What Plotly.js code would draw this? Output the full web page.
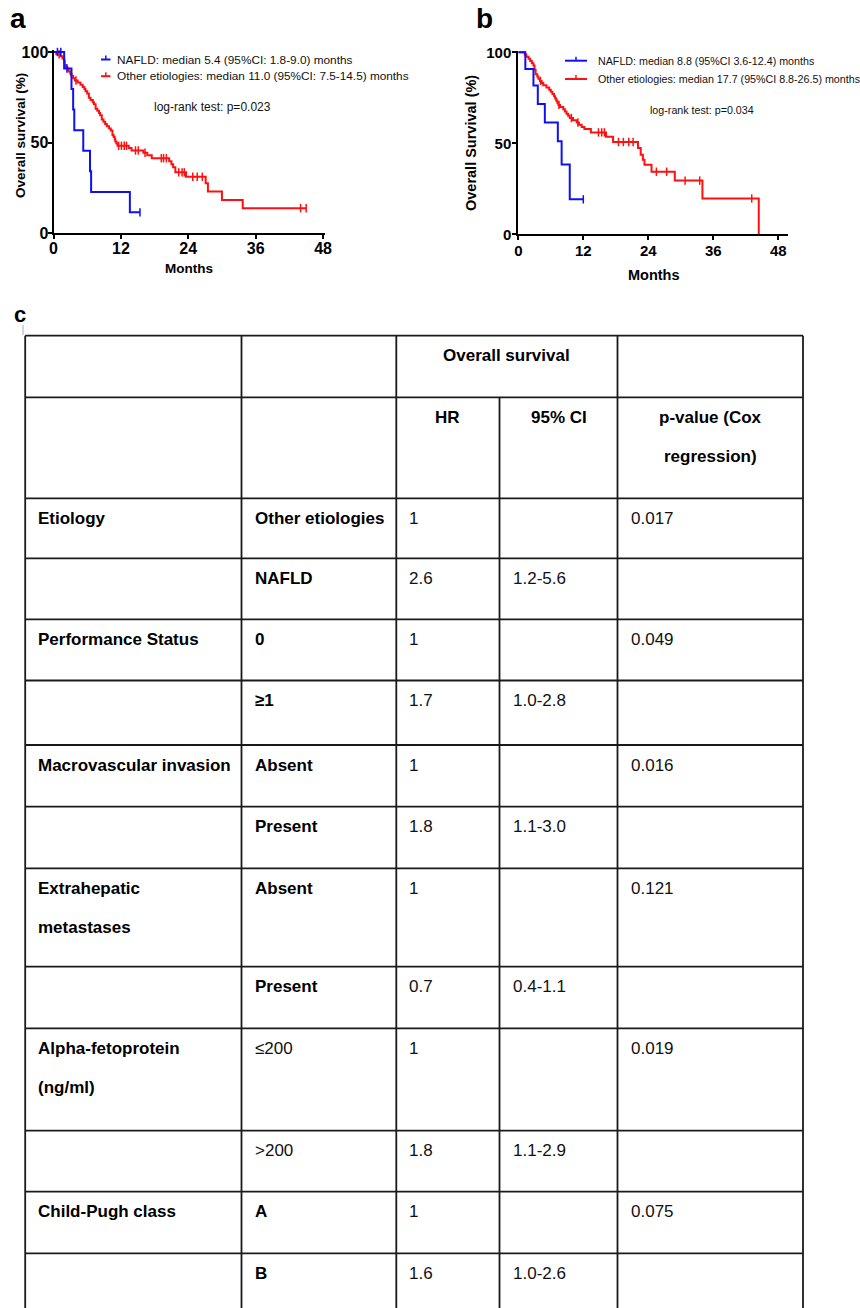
<!DOCTYPE html>
<html>
<head>
<meta charset="utf-8">
<script src="https://cdn.plot.ly/plotly-3.0.1.min.js"></script>
<style>
  html, body { margin: 0; padding: 0; background: #fff; }
  #chart { width: 860px; height: 1308px; }
</style>
</head>
<body>
<div id="chart"></div>
<script>
const FONT = 'Liberation Sans, Arial, Helvetica, sans-serif';
const BLUE = '#1010f0';
const RED = '#ff1010';

// ---- Panel a: Kaplan-Meier steps (months, % alive) ----
const aNafldTime = [0, 1.9, 3.2, 3.5, 3.7, 5.3, 6.5, 6.7, 13.6, 15.4];
const aNafldSurv = [100, 90.9, 79.5, 68.2, 56.8, 45.5, 34.1, 22.7, 11.4, 11.4];
const aNafldCensor = [0.7, 1.3, 2.4, 15.4];

const aOtherTime = [0, 0.5, 1.2, 1.6, 1.9, 2.0, 2.2, 2.5, 2.7, 3.0, 3.2, 3.5, 3.8, 4.3, 4.8, 5.2, 5.5, 5.7, 6.0, 6.3,
  6.6, 7.0, 7.2, 7.5, 7.8, 8.1, 8.3, 8.6, 8.9, 9.2, 9.5, 9.9, 10.2, 10.5, 10.7, 10.9, 11.0, 11.2, 11.4, 13.4,
  13.9, 16.0, 16.7, 17.5, 20.6, 21.0, 21.3, 21.7, 23.6, 27.1, 27.5, 30.0, 33.7, 45.0];
const aOtherSurv = [100, 98.8, 97.6, 96.4, 95.2, 92.8, 91.6, 90.4, 89.2, 88.0, 86.7, 85.5, 84.3, 83.1, 81.9, 80.7, 79.5, 78.3, 77.1, 74.7,
  73.5, 72.3, 71.1, 68.7, 67.5, 66.3, 65.1, 62.7, 61.5, 60.2, 59.0, 57.8, 56.6, 54.2, 53.0, 51.8, 50.6, 49.4, 48.2, 46.9,
  45.6, 44.3, 42.9, 41.3, 39.7, 38.0, 36.3, 33.5, 31.1, 27.5, 22.9, 18.3, 13.7, 13.7];
const aOtherCensor = [1.0, 4.0, 11.6, 12.1, 12.6, 13.0, 14.6, 15.1, 16.3, 19.2, 19.6, 20.1, 22.3, 22.9, 23.3, 24.8, 25.6, 26.5, 44.0, 45.0];

const aLegend = ['NAFLD: median 5.4 (95%CI: 1.8-9.0) months', 'Other etiologies: median 11.0 (95%CI: 7.5-14.5) months'];
const aTest = 'log-rank test: p=0.023';

// ---- Panel b ----
const bNafldTime = [0, 1.3, 2.8, 3.6, 4.9, 7.3, 8.0, 9.5, 12.0];
const bNafldSurv = [100, 90.9, 81.8, 71.6, 61.4, 51.1, 38.4, 19.2, 19.2];
const bNafldCensor = [12.0];

const bOtherTime = [0, 1.2, 1.5, 1.9, 2.2, 2.5, 2.8, 3.0, 3.2, 3.5, 3.7, 4.0, 4.3, 4.6, 5.2, 5.7, 6.0, 6.3, 6.6, 6.8,
  7.0, 7.2, 7.4, 7.7, 8.3, 8.6, 8.9, 9.2, 9.5, 10.1, 10.8, 11.2, 11.7, 12.2, 13.4, 16.2, 17.5, 22.1, 22.6, 23.0,
  23.3, 24.6, 28.9, 34.0, 44.4];
const bOtherSurv = [100, 98.8, 97.6, 96.4, 95.2, 94.0, 92.8, 90.4, 88.0, 86.7, 85.5, 84.3, 83.1, 81.9, 80.7, 79.5, 78.3, 77.1, 75.9, 74.7,
  73.5, 72.3, 71.1, 69.9, 68.7, 67.5, 66.3, 65.1, 63.9, 62.7, 61.4, 60.2, 59.0, 57.8, 56.0, 53.6, 50.7, 47.4, 43.7, 41.0,
  38.2, 34.4, 29.5, 19.7, 0];
const bOtherCensor = [4.1, 7.5, 9.8, 11.0, 14.8, 15.4, 15.9, 18.5, 19.4, 20.4, 21.2, 25.5, 27.4, 30.8, 33.5, 43.1];

const bLegend = ['NAFLD: median 8.8 (95%CI 3.6-12.4) months', 'Other etiologies: median 17.7 (95%CI 8.8-26.5) months'];
const bTest = 'log-rank test: p=0.034';

const monthTicks = [0, 12, 24, 36, 48];
const survTicks = [0, 50, 100];

// ---- Panel c: multivariable Cox table ----
const headGroup = 'Overall survival';
const headCols = ['HR', '95% CI', 'p-value (Cox<br>regression)'];
const factors = ['Etiology', '', 'Performance Status', '', 'Macrovascular invasion', '', 'Extrahepatic<br>metastases', '',
  'Alpha-fetoprotein<br>(ng/ml)', '', 'Child-Pugh class', ''];
const levels = ['Other etiologies', 'NAFLD', '0', '≥1', 'Absent', 'Present', 'Absent', 'Present', '≤200', '>200', 'A', 'B'];
const hrs = ['1', '2.6', '1', '1.7', '1', '1.8', '1', '0.7', '1', '1.8', '1', '1.6'];
const cis = ['', '1.2-5.6', '', '1.0-2.8', '', '1.1-3.0', '', '0.4-1.1', '', '1.1-2.9', '', '1.0-2.6'];
const pvals = ['0.017', '', '0.049', '', '0.016', '', '0.121', '', '0.019', '', '0.075', ''];

// ---- page geometry (canvas axis uses page pixels, y downward) ----
const W = 860, H = 1308;
const colX = [25.2, 241.5, 396.3, 499.5, 617.5, 803];
const rowY = [335.7, 397.3, 498.3, 558.3, 619.3, 680.5, 745.0, 806.7, 868.3, 966.7, 1028.3, 1130.7, 1191.7, 1253.3, 1320];
const PAD = 11, FIRST = 20, LINE = 39;
const levelPlain = ['≤200', '>200'];

function stepAt(times, surv, t) {
  let v = surv[0];
  for (let i = 0; i < times.length; i++) if (times[i] <= t) v = surv[i];
  return v;
}

function km(times, surv, color, xa, ya) {
  return { type: 'scatter', mode: 'lines', x: times, y: surv, xaxis: xa, yaxis: ya,
    line: { shape: 'hv', color: color, width: 2 }, hoverinfo: 'skip', showlegend: false };
}
function censor(times, surv, marks, color, xa, ya) {
  return { type: 'scatter', mode: 'markers', x: marks, y: marks.map(t => stepAt(times, surv, t)),
    xaxis: xa, yaxis: ya, cliponaxis: false,
    marker: { symbol: 'line-ns', size: 6, color: color, line: { color: color, width: 1.5 } },
    hoverinfo: 'skip', showlegend: false };
}

const traces = [
  km(aOtherTime, aOtherSurv, RED, 'x', 'y'),
  censor(aOtherTime, aOtherSurv, aOtherCensor, RED, 'x', 'y'),
  km(aNafldTime, aNafldSurv, BLUE, 'x', 'y'),
  censor(aNafldTime, aNafldSurv, aNafldCensor, BLUE, 'x', 'y'),
  km(bOtherTime, bOtherSurv, RED, 'x2', 'y2'),
  censor(bOtherTime, bOtherSurv, bOtherCensor, RED, 'x2', 'y2'),
  km(bNafldTime, bNafldSurv, BLUE, 'x2', 'y2'),
  censor(bNafldTime, bNafldSurv, bNafldCensor, BLUE, 'x2', 'y2')
];

function xAxis(domain, range, size, anchor, standoff) {
  return { domain: domain, range: range, anchor: anchor, tickvals: monthTicks, ticks: 'outside', ticklen: 4,
    tickwidth: 2, tickcolor: '#000', showline: true, linewidth: 2, linecolor: '#000', showgrid: false,
    zeroline: false, fixedrange: true, ticklabelstandoff: standoff,
    tickfont: { family: FONT, size: size, color: '#000', weight: 'bold' } };
}
function yAxis(domain, size, anchor, standoff) {
  return { domain: domain, range: [0, 101], anchor: anchor, tickvals: survTicks, ticks: 'outside', ticklen: 4,
    tickwidth: 2, tickcolor: '#000', showline: true, linewidth: 2, linecolor: '#000', showgrid: false,
    zeroline: false, fixedrange: true, ticklabelstandoff: standoff,
    tickfont: { family: FONT, size: size, color: '#000', weight: 'bold' } };
}

const annotations = [];
const shapes = [];
function txt(x, y, text, size, opts) {
  annotations.push(Object.assign({ xref: 'x3', yref: 'y3', x: x, y: y, text: text, showarrow: false,
    xanchor: 'left', yanchor: 'middle', font: { family: FONT, size: size, color: '#111' } }, opts || {}));
}
function seg(x0, y0, x1, y1, color, width) {
  shapes.push({ type: 'line', xref: 'x3', yref: 'y3', x0: x0, y0: y0, x1: x1, y1: y1,
    line: { color: color, width: width } });
}
const bold = (size) => ({ font: { family: FONT, size: size, color: '#000', weight: 'bold' } });

// panel letters
txt(17.5, 18.2, 'a', 28, Object.assign({ xanchor: 'center' }, bold(28)));
txt(484, 18.5, 'b', 28, Object.assign({ xanchor: 'center' }, bold(28)));
txt(20, 314, 'c', 22, Object.assign({ xanchor: 'center' }, bold(22)));
seg(23, 325, 23, 335, '#aaa', 1);

// axis titles
txt(20, 136, 'Overall survival (%)', 13.5, Object.assign({ xanchor: 'center', textangle: -90 }, bold(13.5)));
txt(188.7, 268, 'Months', 13.5, Object.assign({ xanchor: 'center' }, bold(13.5)));
txt(471.7, 143.3, 'Overall Survival (%)', 14.5, Object.assign({ xanchor: 'center', textangle: -90 }, bold(14.5)));
txt(653.7, 275, 'Months', 14.5, Object.assign({ xanchor: 'center' }, bold(14.5)));

// legends
[[BLUE, 59.5], [RED, 76.2]].forEach(([c, y], i) => {
  seg(101, y, 110.5, y, c, 2);
  seg(105.8, y - 4, 105.8, y, c, 1.5);
  txt(115, y, aLegend[i], 11.8);
});
txt(152.3, 107.3, aTest, 12);
[[BLUE, 60.7], [RED, 79]].forEach(([c, y], i) => {
  seg(565, y, 587, y, c, 2);
  seg(576, y - 4, 576, y, c, 1.5);
  txt(595.7, y, bLegend[i], 10.7);
});
txt(648.3, 110, bTest, 10.7);

// table grid
const GRID = '#1a1a1a', GW = 1.8;
for (let r = 0; r < rowY.length - 1; r++) seg(colX[0], rowY[r], colX[5], rowY[r], GRID, GW);
[0, 1, 2, 4, 5].forEach(c => seg(colX[c], rowY[0], colX[c], rowY[rowY.length - 1], GRID, GW));
seg(colX[3], rowY[1], colX[3], rowY[rowY.length - 1], GRID, GW);

// table header
const HS = 17;
txt((colX[2] + colX[4]) / 2, rowY[0] + FIRST, headGroup, HS, Object.assign({ xanchor: 'center' }, bold(HS)));
headCols.forEach((h, i) => {
  const cx = (colX[2 + i] + colX[3 + i]) / 2;
  h.split('<br>').forEach((ln, k) =>
    txt(cx, rowY[1] + FIRST + k * LINE, ln, HS, Object.assign({ xanchor: 'center' }, bold(HS))));
});

// table body
factors.forEach((f, i) => {
  const top = rowY[i + 2] + FIRST;
  f.split('<br>').forEach((ln, k) => { if (ln) txt(colX[0] + PAD, top + k * LINE, ln, HS, bold(HS)); });
  const lv = levels[i];
  txt(colX[1] + PAD, top, lv, HS, levelPlain.includes(lv) ? {} : bold(HS));
  if (hrs[i]) txt(colX[2] + PAD, top, hrs[i], HS);
  if (cis[i]) txt(colX[3] + PAD, top, cis[i], HS);
  if (pvals[i]) txt(colX[4] + PAD, top, pvals[i], HS);
});

const layout = {
  width: W, height: H, margin: { l: 0, r: 0, t: 0, b: 0 },
  paper_bgcolor: '#fff', plot_bgcolor: 'rgba(0,0,0,0)', showlegend: false, hovermode: false,
  xaxis: xAxis([53.5 / W, 324.7 / W], [0, 48.3], 16, 'y', -4),
  yaxis: yAxis([1 - 233 / H, 1 - 50.2 / H], 16, 'x', -4),
  xaxis2: xAxis([518.3 / W, 788 / W], [0, 49.8], 15, 'y2', -2),
  yaxis2: yAxis([1 - 234.3 / H, 1 - 50.5 / H], 15, 'x2', -2),
  xaxis3: { domain: [0, 1], range: [0, W], visible: false, fixedrange: true, anchor: 'y3' },
  yaxis3: { domain: [0, 1], range: [H, 0], visible: false, fixedrange: true, anchor: 'x3' },
  annotations: annotations,
  shapes: shapes
};

Plotly.newPlot('chart', traces, layout, { staticPlot: true, displayModeBar: false });
</script>
</body>
</html>
